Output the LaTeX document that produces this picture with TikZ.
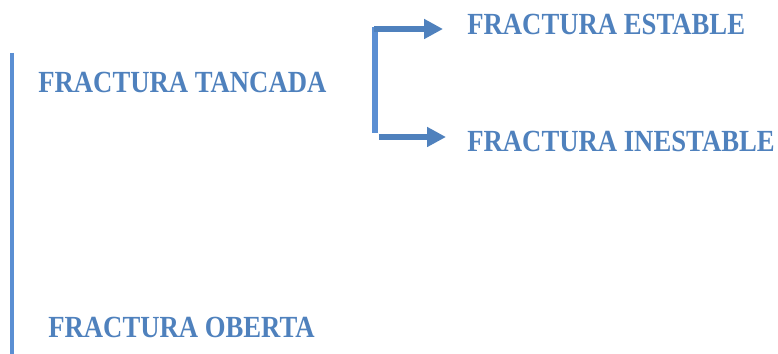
\documentclass[tikz,border=0pt]{standalone}
\usepackage{fontspec}
\setmainfont{Liberation Serif}
\usetikzlibrary{arrows.meta}
\definecolor{blauText}{HTML}{4F81BD}
\definecolor{blauLinia}{HTML}{5B8FD3}
\newcommand{\textAlt}[1]{\scalebox{1}[1.15]{#1}}
\tikzset{
    etiqueta/.style={anchor=west, inner sep=0pt, text=blauText,
        font=\bfseries\fontsize{15.2}{18}\selectfont},
    fletxa/.style={line width=3.3pt, blauText,
        -{Triangle[length=0.38cm, width=0.38cm]}}
}
\begin{document}
\begin{tikzpicture}[x=0.02cm, y=-0.02cm]
    % 1. Marges del dibuix
    \useasboundingbox (0, 0) rectangle (778, 354);

    % 2. Etiquetes
    \node[etiqueta] (tancada) at (38, 82) {\textAlt{FRACTURA TANCADA}};
    \node[etiqueta] (estable) at (467, 24) {\textAlt{FRACTURA ESTABLE}};
    \node[etiqueta] (inestable) at (467, 141) {\textAlt{FRACTURA INESTABLE}};
    \node[etiqueta] (oberta) at (48, 327) {\textAlt{FRACTURA OBERTA}};

    % 3. Línia vertical a l'esquerra
    \coordinate (esqDalt) at (12, 53);
    \coordinate (esqBaix) at (12, 354);
    \draw[line width=2.4pt, blauLinia] (esqDalt) -- (esqBaix);

    % 4. Clau amb les dues fletxes
    \coordinate (clauDalt) at (375, 27);
    \coordinate (clauBaix) at (375, 133);
    \draw[line width=3pt, blauLinia] (clauDalt) -- (clauBaix);
    \draw[fletxa] (374, 29) -- ([xshift=-0.48cm]estable.west |- 0, 29);
    \draw[fletxa] (379, 137) -- ([xshift=-0.42cm]inestable.west |- 0, 137);
\end{tikzpicture}
\end{document}
